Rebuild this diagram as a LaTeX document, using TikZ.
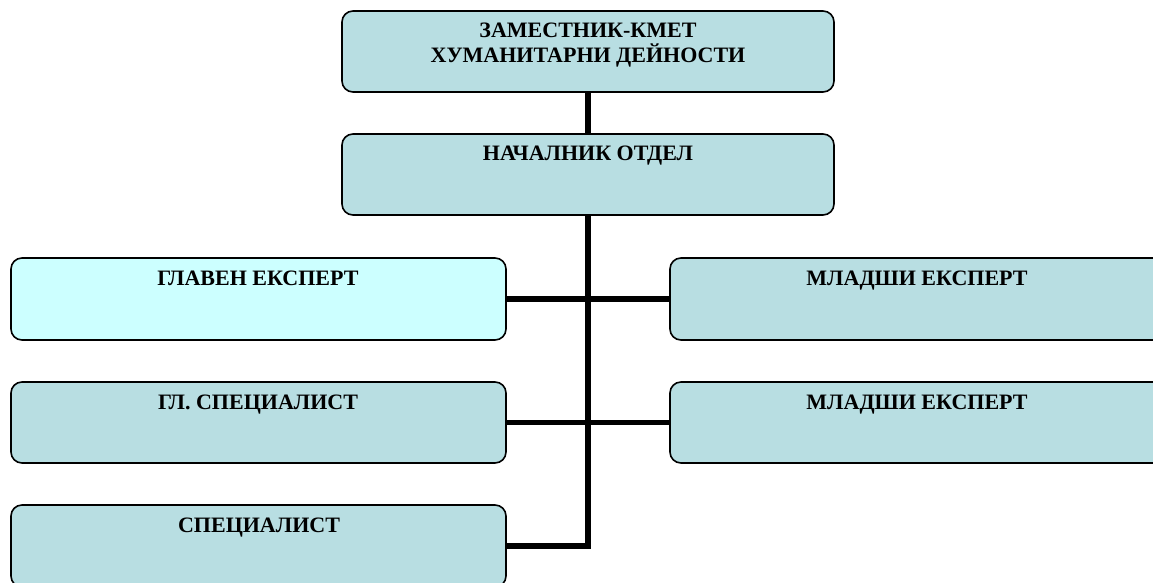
\documentclass[tikz,border=0pt]{standalone}
\usepackage{fontspec}
\setmainfont{Liberation Serif}
\definecolor{boxfill}{RGB}{184,222,226}
\definecolor{cyanfill}{RGB}{204,255,255}
\begin{document}
\begin{tikzpicture}[x=1pt,y=-1pt,
  orgbox/.style={draw=black, line width=1.6pt, rounded corners=11pt, fill=boxfill, minimum width=495pt, minimum height=81pt, inner sep=0pt},
  lbl/.style={font=\fontsize{22}{25}\selectfont\bfseries, inner sep=0pt, anchor=base, align=center},
  conn/.style={line width=5.5pt}]
\useasboundingbox (0,0) rectangle (1153,582);
\clip (0,0) rectangle (1153,582);
\node[orgbox, minimum width=492pt] (top) at (588,51.5) {};
\node[orgbox, minimum width=492pt] (nach) at (588,174.5) {};
\node[orgbox, fill=cyanfill, minimum height=82pt] (ge) at (258.5,299) {};
\node[orgbox] (gs) at (258.5,422.5) {};
\node[orgbox, minimum height=82pt] (sp) at (258.5,546) {};
\node[orgbox, minimum height=82pt] (me1) at (917.5,299) {};
\node[orgbox] (me2) at (917.5,422.5) {};
\draw[conn] (top.south) -- (nach.north);
\draw[conn] (nach.south) |- (sp.east);
\draw[conn] (ge.east) -- (me1.west);
\draw[conn] (gs.east) -- (me2.west);
\node[lbl] (ttop) at (588,62) {ЗАМЕСТНИК-КМЕТ\\ХУМАНИТАРНИ ДЕЙНОСТИ};
\node[lbl] (tnach) at (588,160) {НАЧАЛНИК ОТДЕЛ};
\node[lbl] (tge) at (258,285) {ГЛАВЕН ЕКСПЕРТ};
\node[lbl] (tgs) at (258,409) {ГЛ. СПЕЦИАЛИСТ};
\node[lbl] (tsp) at (259,532) {СПЕЦИАЛИСТ};
\node[lbl] (tme1) at (917,285) {МЛАДШИ ЕКСПЕРТ};
\node[lbl] (tme2) at (917,409) {МЛАДШИ ЕКСПЕРТ};
\end{tikzpicture}
\end{document}
